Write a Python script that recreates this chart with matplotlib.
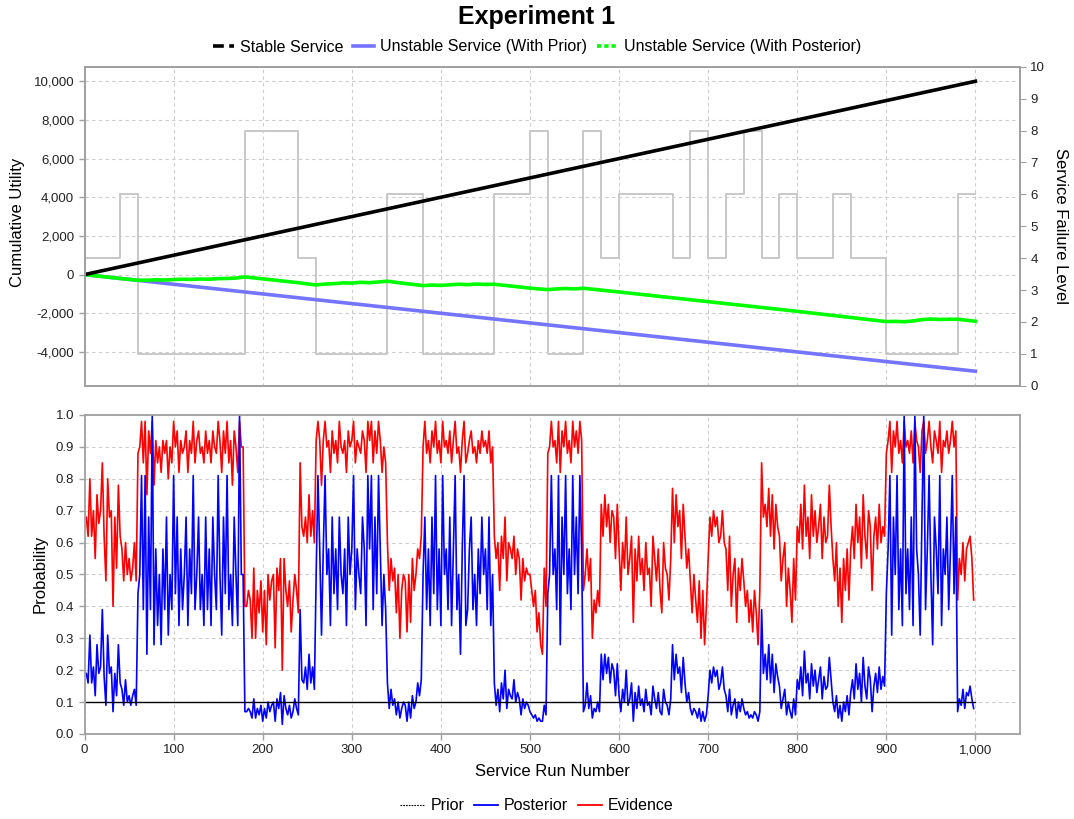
import matplotlib
matplotlib.use("Agg")
import matplotlib.pyplot as plt
from matplotlib.lines import Line2D
from matplotlib.ticker import FuncFormatter, MultipleLocator
import numpy as np

plt.rcParams['font.family'] = ['Liberation Sans', 'DejaVu Sans']

# ---- top panel data ----
stable_runs = [0, 1000]
stable_utility = [0, 10000]
prior_runs = [0, 1000]
prior_utility = [0, -5000]

post_runs = [0, 20, 40, 60, 70, 80, 90, 100, 110, 120, 130, 140, 150, 160, 170, 180,
             200, 220, 240, 250, 260, 270, 280, 290, 300, 310, 320, 330, 340, 360, 380,
             390, 400, 410, 420, 430, 440, 450, 460, 480, 500, 520, 530, 540, 550, 560,
             600, 700, 800, 900, 910, 920, 930, 940, 950, 960, 970, 980, 1000]
post_utility = [0, -100, -200, -293, -290, -270, -280, -258, -240, -250, -230, -240, -210, -200, -180, -120,
                -220, -320, -420, -480, -534, -490, -470, -430, -440, -400, -420, -380, -345, -460, -569,
                -540, -560, -530, -500, -520, -490, -510, -500, -600, -700, -780, -740, -720, -740, -707,
                -900, -1400, -1900, -2431, -2420, -2440, -2400, -2330, -2300, -2320, -2310, -2310, -2414]

fail_runs = [0, 40, 60, 180, 240, 260, 340, 380, 460, 500, 520, 560, 580, 600, 660, 680,
             700, 720, 740, 760, 780, 800, 840, 860, 900, 980, 1000]
fail_levels = [4, 6, 1, 8, 4, 1, 6, 1, 6, 8, 1, 8, 4, 6, 4, 8,
               4, 6, 8, 4, 6, 4, 6, 4, 1, 6, 6]

# ---- bottom panel data (one value every 2 runs) ----
prior_line_runs = [0, 1000]
prior_prob = [0.1, 0.1]

evidence = [
    # 0-40
    0.68, 0.68, 0.62, 0.80, 0.62, 0.70, 0.55, 0.75, 0.66, 0.70, 0.85, 0.62, 0.48, 0.80, 0.68, 0.70, 0.40, 0.68, 0.52, 0.78,
    # 40-60
    0.62, 0.58, 0.48, 0.60, 0.50, 0.55, 0.48, 0.52, 0.60, 0.48,
    # 60-180
    0.88, 0.90, 0.98, 0.85, 0.98, 0.75, 0.95, 0.88, 0.98, 0.78, 0.92, 0.85, 0.90, 0.82, 0.92, 0.88, 0.92, 0.80, 0.90, 0.85,
    0.98, 0.90, 0.95, 0.82, 0.92, 0.88, 0.90, 0.95, 0.82, 0.92, 0.88, 0.98, 0.85, 0.92, 0.95, 0.88, 0.90, 0.85, 0.95, 0.88,
    0.92, 0.85, 0.95, 0.90, 0.88, 0.98, 0.92, 0.82, 0.95, 0.88, 0.98, 0.85, 0.92, 0.78, 0.95, 0.90, 0.82, 0.98, 0.90, 0.90,
    # 180-240
    0.40, 0.40, 0.45, 0.42, 0.30, 0.52, 0.30, 0.45, 0.38, 0.48, 0.32, 0.45, 0.28, 0.50, 0.42, 0.48, 0.50, 0.27, 0.52, 0.45,
    0.55, 0.20, 0.55, 0.45, 0.40, 0.48, 0.32, 0.42, 0.50, 0.45,
    # 240-260
    0.38, 0.85, 0.65, 0.62, 0.68, 0.60, 0.75, 0.62, 0.70, 0.60,
    # 260-340
    0.92, 0.98, 0.92, 0.78, 0.92, 0.98, 0.90, 0.92, 0.82, 0.95, 0.88, 0.92, 0.85, 0.98, 0.90, 0.88, 0.92, 0.82, 0.95, 0.90,
    0.92, 0.98, 0.85, 0.92, 0.90, 0.88, 0.95, 0.92, 0.82, 0.98, 0.92, 0.98, 0.85, 0.95, 0.88, 0.98, 0.92, 0.82, 0.90, 0.85,
    # 340-380
    0.60, 0.45, 0.55, 0.48, 0.52, 0.38, 0.50, 0.30, 0.45, 0.50, 0.48, 0.32, 0.50, 0.35, 0.55, 0.45, 0.50, 0.58, 0.55, 0.62,
    # 380-460
    0.90, 0.98, 0.88, 0.92, 0.85, 0.95, 0.90, 0.98, 0.88, 0.92, 0.85, 0.98, 0.90, 0.92, 0.88, 0.95, 0.85, 0.92, 0.98, 0.88,
    0.90, 0.82, 0.92, 0.98, 0.85, 0.88, 0.92, 0.95, 0.88, 0.90, 0.85, 0.92, 0.88, 0.95, 0.90, 0.92, 0.88, 0.95, 0.85, 0.90,
    # 460-500
    0.62, 0.55, 0.60, 0.45, 0.62, 0.55, 0.68, 0.48, 0.60, 0.58, 0.55, 0.62, 0.50, 0.58, 0.55, 0.42, 0.55, 0.48, 0.52, 0.50,
    # 500-520
    0.50, 0.45, 0.40, 0.45, 0.32, 0.38, 0.28, 0.25, 0.52, 0.40,
    # 520-560
    0.88, 0.90, 0.98, 0.90, 0.92, 0.85, 0.98, 0.82, 0.95, 0.90, 0.98, 0.88, 0.92, 0.85, 0.98, 0.90, 0.95, 0.88, 0.98, 0.92,
    # 560-580
    0.45, 0.50, 0.58, 0.48, 0.55, 0.30, 0.42, 0.38, 0.45, 0.40,
    # 580-600
    0.72, 0.62, 0.75, 0.65, 0.72, 0.60, 0.70, 0.68, 0.55, 0.72,
    # 600-660
    0.58, 0.45, 0.60, 0.52, 0.68, 0.50, 0.55, 0.62, 0.35, 0.58, 0.48, 0.62, 0.50, 0.55, 0.45, 0.60, 0.50, 0.52, 0.40, 0.62,
    0.55, 0.48, 0.58, 0.45, 0.38, 0.60, 0.52, 0.50, 0.42, 0.55,
    # 660-680
    0.77, 0.60, 0.75, 0.65, 0.70, 0.55, 0.72, 0.62, 0.52, 0.58,
    # 680-700
    0.48, 0.38, 0.50, 0.42, 0.35, 0.48, 0.30, 0.45, 0.28, 0.40,
    # 700-720
    0.55, 0.68, 0.62, 0.70, 0.65, 0.68, 0.60, 0.62, 0.70, 0.60,
    # 720-740
    0.58, 0.45, 0.62, 0.40, 0.50, 0.55, 0.35, 0.52, 0.45, 0.55,
    # 740-760
    0.48, 0.40, 0.45, 0.35, 0.42, 0.32, 0.45, 0.38, 0.28, 0.45,
    # 760-780
    0.85, 0.68, 0.72, 0.65, 0.77, 0.62, 0.75, 0.58, 0.72, 0.65,
    # 780-800
    0.62, 0.48, 0.55, 0.60, 0.40, 0.52, 0.45, 0.35, 0.55, 0.42,
    # 800-840
    0.65, 0.60, 0.72, 0.58, 0.78, 0.62, 0.68, 0.55, 0.75, 0.62, 0.70, 0.60, 0.65, 0.72, 0.55, 0.68, 0.60, 0.62, 0.78, 0.65,
    # 840-860
    0.55, 0.48, 0.60, 0.40, 0.52, 0.35, 0.55, 0.45, 0.58, 0.42,
    # 860-900
    0.58, 0.65, 0.55, 0.72, 0.60, 0.68, 0.52, 0.75, 0.62, 0.55, 0.70, 0.65, 0.45, 0.62, 0.68, 0.58, 0.72, 0.60, 0.65, 0.62,
    # 900-980
    0.88, 0.92, 0.98, 0.82, 0.95, 0.90, 0.98, 0.88, 0.92, 0.85, 0.98, 0.90, 0.92, 0.88, 0.95, 0.85, 0.98, 0.92, 0.90, 0.82,
    0.95, 0.98, 0.88, 0.92, 0.98, 0.90, 0.85, 0.95, 0.92, 0.88, 0.98, 0.82, 0.92, 0.90, 0.95, 0.88, 0.92, 0.98, 0.90, 0.95,
    # 980-1000
    0.42, 0.55, 0.50, 0.60, 0.48, 0.58, 0.60, 0.62, 0.55, 0.42,
]

posterior = [
    # 0-40
    0.19, 0.19, 0.16, 0.31, 0.16, 0.21, 0.12, 0.28, 0.19, 0.21, 0.39, 0.18, 0.09, 0.31, 0.19, 0.21, 0.07, 0.19, 0.12, 0.28,
    # 40-60
    0.16, 0.14, 0.09, 0.17, 0.10, 0.12, 0.09, 0.12, 0.14, 0.09,
    # 60-180
    0.44, 0.50, 0.81, 0.39, 0.81, 0.25, 0.68, 0.39, 1.00, 0.28, 0.58, 0.34, 0.50, 0.28, 0.58, 0.39, 0.68, 0.31, 0.50, 0.39,
    0.81, 0.44, 0.68, 0.34, 0.58, 0.39, 0.50, 0.68, 0.34, 0.58, 0.44, 0.81, 0.39, 0.50, 0.68, 0.39, 0.50, 0.34, 0.68, 0.39,
    0.58, 0.34, 0.68, 0.50, 0.39, 0.81, 0.50, 0.31, 0.68, 0.44, 0.81, 0.39, 0.50, 0.34, 0.68, 0.50, 0.34, 1.00, 0.50, 0.50,
    # 180-240
    0.07, 0.07, 0.08, 0.07, 0.05, 0.11, 0.05, 0.08, 0.06, 0.09, 0.04, 0.08, 0.05, 0.10, 0.07, 0.09, 0.10, 0.04, 0.11, 0.08,
    0.13, 0.03, 0.12, 0.08, 0.06, 0.09, 0.05, 0.07, 0.11, 0.08,
    # 240-260
    0.06, 0.39, 0.17, 0.16, 0.21, 0.14, 0.25, 0.16, 0.21, 0.14,
    # 260-340
    0.50, 0.81, 0.58, 0.31, 0.58, 0.81, 0.50, 0.58, 0.34, 0.68, 0.44, 0.58, 0.39, 0.68, 0.50, 0.44, 0.58, 0.34, 0.68, 0.50,
    0.58, 0.81, 0.39, 0.58, 0.50, 0.44, 0.68, 0.58, 0.34, 0.81, 0.58, 0.81, 0.39, 0.68, 0.44, 0.81, 0.58, 0.34, 0.50, 0.39,
    # 340-380
    0.16, 0.08, 0.14, 0.09, 0.11, 0.06, 0.10, 0.05, 0.08, 0.10, 0.09, 0.04, 0.10, 0.05, 0.12, 0.08, 0.10, 0.16, 0.12, 0.17,
    # 380-460
    0.50, 0.68, 0.39, 0.58, 0.34, 0.68, 0.44, 0.81, 0.39, 0.58, 0.34, 0.81, 0.50, 0.58, 0.39, 0.68, 0.34, 0.58, 0.81, 0.39,
    0.50, 0.25, 0.58, 0.81, 0.34, 0.39, 0.58, 0.68, 0.39, 0.50, 0.34, 0.58, 0.44, 0.68, 0.50, 0.58, 0.39, 0.68, 0.34, 0.50,
    # 460-500
    0.16, 0.09, 0.14, 0.07, 0.16, 0.11, 0.20, 0.08, 0.14, 0.12, 0.11, 0.17, 0.10, 0.13, 0.11, 0.06, 0.11, 0.08, 0.10, 0.09,
    # 500-520
    0.07, 0.06, 0.05, 0.06, 0.04, 0.05, 0.04, 0.04, 0.09, 0.06,
    # 520-560
    0.44, 0.50, 0.81, 0.50, 0.58, 0.39, 0.81, 0.28, 0.68, 0.50, 0.81, 0.44, 0.58, 0.39, 0.81, 0.50, 0.68, 0.44, 0.81, 0.58,
    # 560-580
    0.07, 0.09, 0.16, 0.08, 0.12, 0.05, 0.08, 0.07, 0.10, 0.07,
    # 580-600
    0.25, 0.17, 0.25, 0.19, 0.24, 0.16, 0.22, 0.20, 0.12, 0.22,
    # 600-660
    0.12, 0.07, 0.14, 0.10, 0.20, 0.09, 0.11, 0.16, 0.04, 0.13, 0.08, 0.15, 0.09, 0.11, 0.07, 0.14, 0.09, 0.10, 0.06, 0.15,
    0.11, 0.08, 0.13, 0.07, 0.06, 0.14, 0.10, 0.09, 0.06, 0.11,
    # 660-680
    0.28, 0.17, 0.25, 0.19, 0.21, 0.13, 0.24, 0.16, 0.10, 0.13,
    # 680-700
    0.08, 0.06, 0.08, 0.07, 0.05, 0.08, 0.04, 0.07, 0.04, 0.06,
    # 700-720
    0.12, 0.20, 0.16, 0.21, 0.18, 0.20, 0.14, 0.16, 0.21, 0.14,
    # 720-740
    0.12, 0.07, 0.14, 0.06, 0.09, 0.11, 0.05, 0.10, 0.07, 0.11,
    # 740-760
    0.08, 0.06, 0.07, 0.05, 0.06, 0.05, 0.07, 0.06, 0.04, 0.07,
    # 760-780
    0.39, 0.19, 0.25, 0.17, 0.28, 0.16, 0.25, 0.13, 0.22, 0.18,
    # 780-800
    0.15, 0.08, 0.11, 0.14, 0.06, 0.10, 0.07, 0.05, 0.11, 0.06,
    # 800-840
    0.17, 0.14, 0.21, 0.12, 0.26, 0.16, 0.19, 0.11, 0.22, 0.15, 0.20, 0.13, 0.17, 0.21, 0.11, 0.18, 0.14, 0.15, 0.24, 0.17,
    # 840-860
    0.10, 0.07, 0.12, 0.05, 0.09, 0.04, 0.10, 0.07, 0.12, 0.06,
    # 860-900
    0.13, 0.17, 0.11, 0.22, 0.14, 0.19, 0.10, 0.24, 0.15, 0.11, 0.21, 0.17, 0.07, 0.15, 0.19, 0.13, 0.21, 0.14, 0.18, 0.15,
    # 900-980
    0.44, 0.58, 0.81, 0.31, 0.68, 0.50, 0.81, 0.39, 0.58, 0.34, 1.00, 0.44, 0.58, 0.39, 0.68, 0.34, 1.00, 0.58, 0.50, 0.31,
    0.68, 1.00, 0.39, 0.58, 0.81, 0.50, 0.28, 0.68, 0.58, 0.44, 0.81, 0.34, 0.58, 0.50, 0.68, 0.39, 0.58, 0.81, 0.44, 0.68,
    # 980-1000
    0.07, 0.11, 0.09, 0.14, 0.08, 0.13, 0.12, 0.15, 0.11, 0.08,
]

evidence_runs = np.linspace(0, 998, len(evidence))
posterior_runs = np.linspace(0, 998, len(posterior))

SPINE = '#a0a0a0'
GRID = '#cccccc'

def style(a):
    for s in a.spines.values():
        s.set_color(SPINE)
        s.set_linewidth(1.3)
    a.tick_params(colors='#222222', labelsize=9.5, length=4, width=1, direction='out')
    a.tick_params(axis='both', color=SPINE)
    a.grid(True, color=GRID, linestyle=(0, (3, 3)), linewidth=0.8)
    a.set_axisbelow(True)

comma = FuncFormatter(lambda v, p: f'{v:,.0f}')

fig = plt.figure(figsize=(10.74, 8.19), dpi=100)

# ---- top panel ----
ax = fig.add_axes([0.0787, 0.529, 0.871, 0.3895])
ax2 = ax.twinx()
ax.set_zorder(ax2.get_zorder() + 1)
ax.patch.set_visible(False)

ax2.step(fail_runs, fail_levels, where='post', color='#c4c4c4', lw=1.3)
ax2.set_ylim(0, 10)
ax2.yaxis.set_major_locator(MultipleLocator(1))
ax2.tick_params(labelsize=9.5, length=4, color=SPINE, colors='#222222')
ax2.tick_params(axis='y', color=SPINE)
for s in ax2.spines.values():
    s.set_color(SPINE)
    s.set_linewidth(1.3)

ax.plot(prior_runs, prior_utility, color='#7474ff', lw=2.6)
ax.plot(post_runs, post_utility, color='#00ff00', lw=2.6)
ax.plot(stable_runs, stable_utility, color='black', lw=2.6)
ax.set_xlim(0, 1050)
ax.set_ylim(-5750, 10750)
ax.xaxis.set_major_locator(MultipleLocator(100))
ax.yaxis.set_major_locator(MultipleLocator(2000))
ax.yaxis.set_major_formatter(comma)
style(ax)
ax.tick_params(axis='x', length=0, labelbottom=False)

# ---- bottom panel ----
bx = fig.add_axes([0.0787, 0.1038, 0.871, 0.3895])
bx.plot(evidence_runs, evidence, color='#ff0000', lw=1.2)
bx.plot(posterior_runs, posterior, color='#0000ff', lw=1.2)
bx.plot(prior_line_runs, prior_prob, color='black', lw=1.0)
bx.set_xlim(0, 1050)
bx.set_ylim(0, 1)
bx.xaxis.set_major_locator(MultipleLocator(100))
bx.yaxis.set_major_locator(MultipleLocator(0.1))
bx.xaxis.set_major_formatter(comma)
bx.yaxis.set_major_formatter(FuncFormatter(lambda v, p: f'{v:.1f}'))
style(bx)

# ---- texts ----
fig.text(0.5, 1 - 17 / 819, 'Experiment 1', ha='center', va='center',
         fontsize=18, fontweight='bold')
fig.text(18 / 1074, 1 - 222 / 819, 'Cumulative Utility', rotation=90,
         ha='center', va='center', fontsize=12)
fig.text(1060 / 1074, 1 - 226 / 819, 'Service Failure Level', rotation=270,
         ha='center', va='center', fontsize=12)
fig.text(40 / 1074, 1 - 574 / 819, 'Probability', rotation=90,
         ha='center', va='center', fontsize=12)
fig.text(552 / 1074, 1 - 772 / 819, 'Service Run Number', ha='center',
         va='center', fontsize=12)

top_handles = [
    Line2D([], [], color='black', lw=2.6, linestyle=(0, (3, 1.5))),
    Line2D([], [], color='#7474ff', lw=2.6),
    Line2D([], [], color='#00ff00', lw=2.6, linestyle=(0, (1.2, 0.8))),
]
fig.legend(top_handles, ['Stable Service', 'Unstable Service (With Prior)',
                         'Unstable Service (With Posterior)'],
           loc='center', bbox_to_anchor=(0.5, 1 - 47 / 819), ncol=3,
           frameon=False, fontsize=11.5, handlelength=1.3, handletextpad=0.4,
           columnspacing=0.6)

bottom_handles = [
    Line2D([], [], color='black', lw=0.8, linestyle=(0, (1.5, 1))),
    Line2D([], [], color='#0000ff', lw=1.3),
    Line2D([], [], color='#ff0000', lw=1.3),
]
fig.legend(bottom_handles, ['Prior', 'Posterior', 'Evidence'],
           loc='center', bbox_to_anchor=(0.5, 1 - 806 / 819), ncol=3,
           frameon=False, fontsize=11.5, handlelength=1.5, handletextpad=0.4,
           columnspacing=0.6)

fig.savefig('out.png', dpi=100)
